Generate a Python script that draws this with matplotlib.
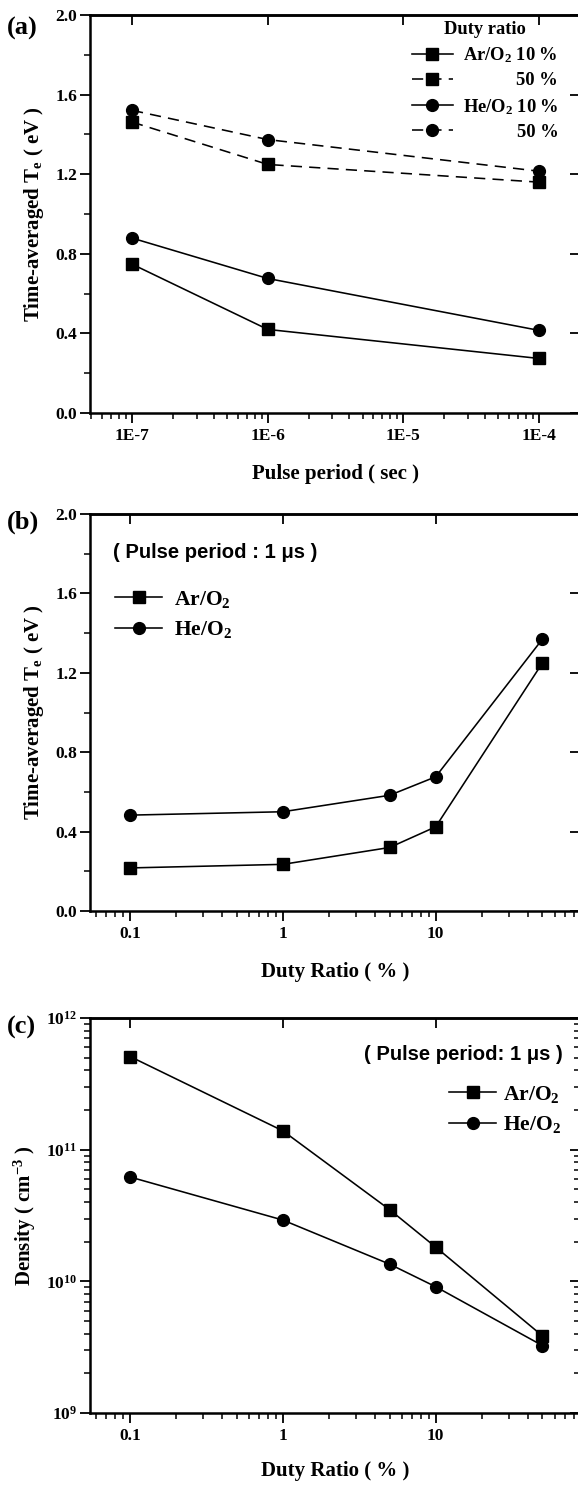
import numpy as np
import matplotlib
matplotlib.use("Agg")
import matplotlib.pyplot as plt
import matplotlib.transforms as mtransforms
from matplotlib.ticker import LogLocator, NullLocator, NullFormatter, MultipleLocator, FixedLocator

plt.rcParams['font.family'] = ['Liberation Serif', 'DejaVu Serif']
plt.rcParams['font.weight'] = 'bold'
plt.rcParams['mathtext.fontset'] = 'custom'
plt.rcParams['mathtext.rm'] = 'Liberation Serif:bold'
plt.rcParams['mathtext.it'] = 'Liberation Serif:italic:bold'
plt.rcParams['mathtext.bf'] = 'Liberation Serif:bold'
plt.rcParams['axes.linewidth'] = 1.8

# ---------------- data ----------------
period = [1e-7, 1e-6, 1e-4]
period_ticks = [1e-7, 1e-6, 1e-5, 1e-4]
period_ticklabels = ['1E-7', '1E-6', '1E-5', '1E-4']
te_ar_10 = [0.748, 0.42, 0.274]
te_ar_50 = [1.462, 1.249, 1.16]
te_he_10 = [0.879, 0.676, 0.415]
te_he_50 = [1.521, 1.374, 1.215]

duty = [0.1, 1, 5, 10, 50]
duty_ticks = [0.1, 1, 10]
duty_ticklabels = ['0.1', '1', '10']
te_ar = [0.217, 0.235, 0.32, 0.424, 1.25]
te_he = [0.483, 0.50, 0.583, 0.676, 1.37]
dens_ar = [5.1e11, 1.39e11, 3.5e10, 1.82e10, 3.85e9]
dens_he = [6.2e10, 2.92e10, 1.35e10, 9.1e9, 3.25e9]
te_ticks = [0.0, 0.4, 0.8, 1.2, 1.6, 2.0]
dens_ticks = [1e9, 1e10, 1e11, 1e12]
dens_ticklabels = ['$10^{9}$', '$10^{10}$', '$10^{11}$', '$10^{12}$']

W, H = 578, 1487
fig = plt.figure(figsize=(W / 100, H / 100), dpi=100)

LW = 1.15
MS = 8.5
TICKFS = 12.5
LABFS = 15
SANS = ['Liberation Sans', 'DejaVu Sans']


def add_ax(top, bottom, left=90, right=580):
    return fig.add_axes([left / W, 1 - bottom / H, (right - left) / W, (bottom - top) / H])


def style(ax, ylog=False):
    ax.tick_params(which='major', direction='out', length=7, width=1.3,
                   labelsize=TICKFS, pad=2, top=False, right=False)
    ax.tick_params(which='minor', direction='out', length=4, width=1.1,
                   top=False, right=False)
    ax.tick_params(axis='x', which='major', pad=4)
    for lab in ax.get_xticklabels() + ax.get_yticklabels():
        lab.set_fontweight('bold')
    sx = ax.secondary_xaxis('top')
    sx.xaxis.set_major_locator(FixedLocator(ax.get_xticks()))
    sx.xaxis.set_minor_locator(NullLocator())
    sx.tick_params(which='major', direction='in', length=7, width=1.3,
                   labeltop=False, labelbottom=False)
    sy = ax.secondary_yaxis('right')
    sy.yaxis.set_major_locator(FixedLocator(ax.get_yticks()))
    if ylog:
        sy.yaxis.set_minor_locator(LogLocator(base=10, subs=np.arange(2, 10)))
        sy.yaxis.set_minor_formatter(NullFormatter())
        sy.tick_params(which='minor', direction='in', length=4, width=1.1)
    else:
        sy.yaxis.set_minor_locator(NullLocator())
    sy.tick_params(which='major', direction='in', length=7, width=1.3,
                   labelright=False, labelleft=False)
    for s in list(sx.spines.values()) + list(sy.spines.values()):
        s.set_linewidth(1.8)


dash = (7, 4.5)

# ---------------- (a) ----------------
axa = add_ax(15, 413)
axa.set_xscale('log')
l1, = axa.plot(period, te_ar_10, '-', color='k', lw=LW, marker='s', ms=MS)
l2, = axa.plot(period, te_ar_50, '--', color='k', lw=LW, marker='s', ms=MS, dashes=dash)
l3, = axa.plot(period, te_he_10, '-', color='k', lw=LW, marker='o', ms=MS)
l4, = axa.plot(period, te_he_50, '--', color='k', lw=LW, marker='o', ms=MS, dashes=dash)
axa.set_xlim(4.9e-8, 2.0e-4)
axa.set_ylim(0, 2.0)
axa.set_xticks(period_ticks, period_ticklabels)
axa.xaxis.set_minor_locator(LogLocator(base=10, subs=np.arange(2, 10)))
axa.xaxis.set_minor_formatter(NullFormatter())
axa.set_yticks(te_ticks, [f'{v:.1f}' for v in te_ticks])
axa.yaxis.set_minor_locator(MultipleLocator(0.2))
axa.set_xlabel('Pulse period ( sec )', fontsize=LABFS, fontweight='bold', labelpad=14)
axa.set_ylabel(r'Time-averaged T$_{\mathrm{e}}$ ( eV )', fontsize=LABFS, fontweight='bold', labelpad=7)
style(axa)
lega = axa.legend([l1, l2, l3, l4],
                  ['Ar/O$_2$ 10 %', '50 %', 'He/O$_2$ 10 %', '50 %'],
                  title='Duty ratio', loc='upper left',
                  bbox_to_anchor=(412 / W, 1 - 21 / H), bbox_transform=fig.transFigure,
                  frameon=False, fontsize=13.3, title_fontsize=13.3,
                  handlelength=2.2, handletextpad=0.55, labelspacing=0.4,
                  borderpad=0, borderaxespad=0)
lega.get_title().set_fontweight('bold')

# ---------------- (b) ----------------
axb = add_ax(514, 911)
axb.set_xscale('log')
b1, = axb.plot(duty, te_ar, '-', color='k', lw=LW, marker='s', ms=MS)
b2, = axb.plot(duty, te_he, '-', color='k', lw=LW, marker='o', ms=MS)
axb.set_xlim(0.0547, 88)
axb.set_ylim(0, 2.0)
axb.set_xticks(duty_ticks, duty_ticklabels)
axb.xaxis.set_minor_locator(LogLocator(base=10, subs=np.arange(2, 10)))
axb.xaxis.set_minor_formatter(NullFormatter())
axb.set_yticks(te_ticks, [f'{v:.1f}' for v in te_ticks])
axb.yaxis.set_minor_locator(MultipleLocator(0.2))
axb.set_xlabel('Duty Ratio ( % )', fontsize=LABFS, fontweight='bold', labelpad=14)
axb.set_ylabel(r'Time-averaged T$_{\mathrm{e}}$ ( eV )', fontsize=LABFS, fontweight='bold', labelpad=7)
style(axb)
axb.legend([b1, b2], ['Ar/O$_2$', 'He/O$_2$'], loc='upper left',
           bbox_to_anchor=(115 / W, 1 - 589 / H), bbox_transform=fig.transFigure,
           frameon=False, fontsize=15.5, handlelength=2.2, handletextpad=0.55,
           labelspacing=0.44, borderpad=0, borderaxespad=0)
fig.text(113 / W, 1 - 552 / H, '( Pulse period : 1 \u03bcs )', family=SANS,
         fontweight='bold', fontsize=14.6, ha='left', va='center')

# ---------------- (c) ----------------
axc = add_ax(1018, 1413)
axc.set_xscale('log')
axc.set_yscale('log')
c1, = axc.plot(duty, dens_ar, '-', color='k', lw=LW, marker='s', ms=MS)
c2, = axc.plot(duty, dens_he, '-', color='k', lw=LW, marker='o', ms=MS)
axc.set_xlim(0.0547, 88)
axc.set_ylim(1e9, 1e12)
axc.set_xticks(duty_ticks, duty_ticklabels)
axc.xaxis.set_minor_locator(LogLocator(base=10, subs=np.arange(2, 10)))
axc.xaxis.set_minor_formatter(NullFormatter())
axc.set_yticks(dens_ticks, dens_ticklabels)
axc.yaxis.set_minor_locator(LogLocator(base=10, subs=np.arange(2, 10)))
axc.yaxis.set_minor_formatter(NullFormatter())
axc.set_xlabel('Duty Ratio ( % )', fontsize=LABFS, fontweight='bold', labelpad=12)
axc.set_ylabel(r'Density ( cm$^{-3}$ )', fontsize=LABFS, fontweight='bold', labelpad=6)
style(axc, ylog=True)
axc.legend([c1, c2], ['Ar/O$_2$', 'He/O$_2$'], loc='upper left',
           bbox_to_anchor=(449 / W, 1 - 1084 / H), bbox_transform=fig.transFigure,
           frameon=False, fontsize=15.5, handlelength=2.2, handletextpad=0.33,
           labelspacing=0.44, borderpad=0, borderaxespad=0)
fig.text(563 / W, 1 - 1054 / H, '( Pulse period: 1 \u03bcs )', family=SANS,
         fontweight='bold', fontsize=14.6, ha='right', va='center')

# panel letters
for lab, yc in [('(a)', 28), ('(b)', 522), ('(c)', 1027)]:
    fig.text(7 / W, 1 - yc / H, lab, fontsize=19, fontweight='bold', ha='left', va='center')

# right-align the "50 %" legend labels under the "10 %" labels
fig.canvas.draw()
r = fig.canvas.get_renderer()
texts = lega.get_texts()
for i_ref, i_mov in [(0, 1), (2, 3)]:
    x_ref = texts[i_ref].get_window_extent(r).x1
    x_mov = texts[i_mov].get_window_extent(r).x1
    dx = x_ref - x_mov
    texts[i_mov].set_transform(texts[i_mov].get_transform() + mtransforms.Affine2D().translate(dx, 0))

fig.savefig('out.png', dpi=100)
